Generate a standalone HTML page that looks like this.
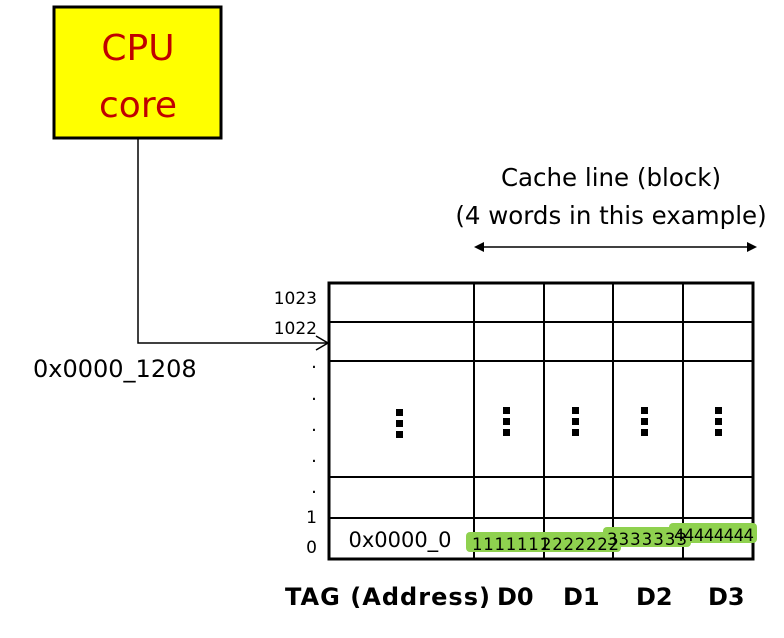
<!DOCTYPE html>
<html><head><style>body{margin:0;background:#fff}svg{display:block}</style></head><body>
<svg width="784" height="638" viewBox="0 0 784 638" xmlns="http://www.w3.org/2000/svg" font-family="DejaVu Sans, Liberation Sans, sans-serif">
<rect x="54" y="7" width="167" height="131" fill="#ffff00" stroke="#000" stroke-width="3"/>
<text x="138" y="60" font-size="36" fill="#c00000" text-anchor="middle">CPU</text>
<text x="138" y="117" font-size="36" fill="#c00000" text-anchor="middle">core</text>
<polyline points="138,138 138,343 327,343" fill="none" stroke="#000" stroke-width="1.5"/>
<polyline points="316,336 328,343 316,350" fill="none" stroke="#000" stroke-width="1.5"/>
<text x="33" y="377" font-size="24">0x0000_1208</text>
<text x="611" y="186" font-size="24.5" text-anchor="middle">Cache line (block)</text>
<text x="611" y="224" font-size="24.5" text-anchor="middle">(4 words in this example)</text>
<line x1="478" y1="247" x2="753" y2="247" stroke="#000" stroke-width="1.5"/>
<polygon points="474,247 484,242 484,252" fill="#000"/>
<polygon points="757,247 747,242 747,252" fill="#000"/>
<g stroke="#000" stroke-width="2" fill="none">
<rect x="329" y="283" width="424" height="276" stroke-width="3"/>
<line x1="329" y1="322" x2="753" y2="322"/><line x1="329" y1="361" x2="753" y2="361"/>
<line x1="329" y1="477" x2="753" y2="477"/><line x1="329" y1="518" x2="753" y2="518"/>
<line x1="474" y1="283" x2="474" y2="559"/><line x1="544" y1="283" x2="544" y2="559"/>
<line x1="613" y1="283" x2="613" y2="559"/><line x1="683" y1="283" x2="683" y2="559"/>
</g>
<g fill="#000">
<rect x="396" y="409" width="7" height="7"/><rect x="396" y="420" width="7" height="7"/><rect x="396" y="431" width="7" height="7"/>
<rect x="503" y="407" width="7" height="7"/><rect x="503" y="418" width="7" height="7"/><rect x="503" y="429" width="7" height="7"/>
<rect x="572" y="407" width="7" height="7"/><rect x="572" y="418" width="7" height="7"/><rect x="572" y="429" width="7" height="7"/>
<rect x="641" y="407" width="7" height="7"/><rect x="641" y="418" width="7" height="7"/><rect x="641" y="429" width="7" height="7"/>
<rect x="715" y="407" width="7" height="7"/><rect x="715" y="418" width="7" height="7"/><rect x="715" y="429" width="7" height="7"/>
</g>
<g font-size="17" text-anchor="end">
<text x="317" y="304">1023</text><text x="317" y="334">1022</text>
<text x="317" y="523">1</text><text x="317" y="553">0</text>
</g>
<g font-size="18" text-anchor="middle">
<text x="314" y="368">.</text><text x="314" y="400">.</text><text x="314" y="431">.</text><text x="314" y="462">.</text><text x="314" y="493">.</text>
</g>
<text x="400" y="547" font-size="21" text-anchor="middle">0x0000_0</text>
<g fill="#8fd14f">
<rect x="466" y="532" width="86" height="20" rx="4"/>
<rect x="537" y="532" width="84" height="20" rx="4"/>
<rect x="603" y="527" width="88" height="20" rx="4"/>
<rect x="669" y="523" width="88" height="20" rx="4"/>
</g>
<g font-size="16.5" fill="#000">
<text x="472" y="550" textLength="78">1111111</text>
<text x="541" y="550" textLength="78">2222222</text>
<text x="607" y="545" textLength="80">3333333</text>
<text x="674" y="541" textLength="80">44444444</text>
</g>
<g font-size="24" font-weight="bold">
<text x="285" y="605" textLength="205">TAG (Address)</text>
<text x="497" y="605">D0</text><text x="563" y="605">D1</text>
<text x="636" y="605">D2</text><text x="708" y="605">D3</text>
</g>
</svg>
</body></html>
